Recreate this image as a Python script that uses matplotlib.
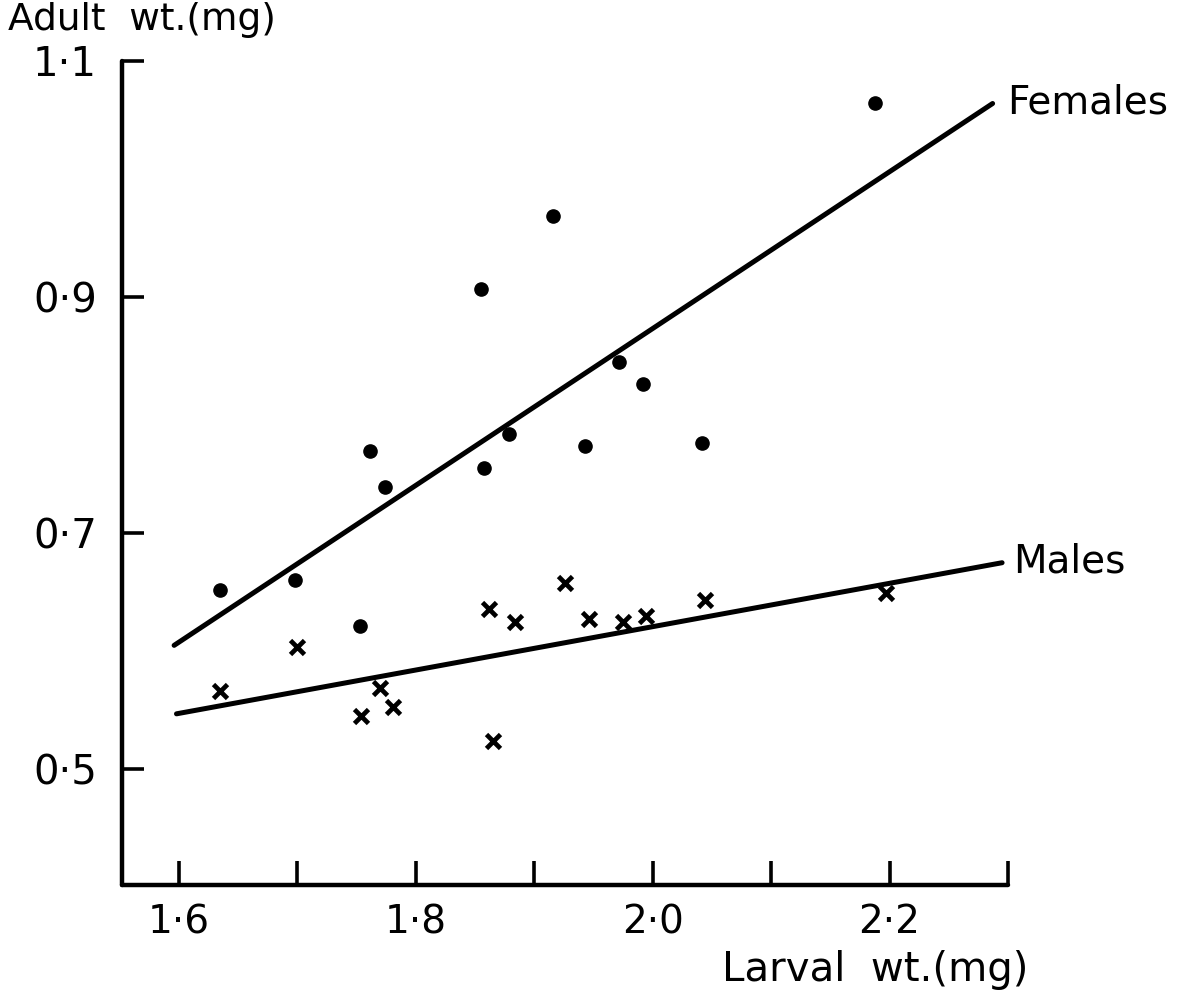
#!/usr/bin/env python

import numpy as np
import matplotlib
matplotlib.use("Agg")
import matplotlib.pyplot as plt

# larval vs adult weight (mg), one point per culture
fem_larval = [1.635, 1.698, 1.753, 1.761, 1.774, 1.855, 1.858, 1.879, 1.916, 1.943, 1.972, 1.992, 2.042, 2.188]
fem_adult = [0.652, 0.660, 0.621, 0.770, 0.739, 0.907, 0.755, 0.784, 0.969, 0.774, 0.845, 0.826, 0.776, 1.064]

male_larval = [1.635, 1.700, 1.754, 1.770, 1.781, 1.862, 1.865, 1.884, 1.926, 1.946, 1.975, 1.994, 2.044, 2.197]
male_adult = [0.566, 0.604, 0.545, 0.569, 0.553, 0.636, 0.524, 0.625, 0.658, 0.627, 0.625, 0.630, 0.643, 0.649]

# fitted regression lines, given by their end points
fem_line_x = [1.596, 2.287]
fem_line_y = [0.605, 1.064]
male_line_x = [1.598, 2.295]
male_line_y = [0.547, 0.675]

x_major = [1.6, 1.8, 2.0, 2.2]
x_major_labels = ["1·6", "1·8", "2·0", "2·2"]
x_minor = [1.7, 1.9, 2.1, 2.3]
y_major = [0.5, 0.7, 0.9, 1.1]
y_major_labels = ["0·5", "0·7", "0·9", "1·1"]

plt.rcParams["font.family"] = ["DejaVu Sans"]

fig = plt.figure(figsize = (11.87, 9.97), dpi = 100)
ax = fig.add_axes([122 / 1187, 112 / 997, 886 / 1187, 824 / 997])

ax.plot(fem_line_x, fem_line_y, color = "black", lw = 3.6, solid_capstyle = "round", clip_on = False)
ax.plot(male_line_x, male_line_y, color = "black", lw = 3.6, solid_capstyle = "round", clip_on = False)

ax.plot(fem_larval, fem_adult, "o", color = "black", ms = 9.5, clip_on = False)
ax.plot(male_larval, male_adult, "x", color = "black", ms = 10.5, mew = 3.4, clip_on = False)

ax.text(2.299, 1.065, "Females", fontsize = 28, va = "center", ha = "left")
ax.text(2.304, 0.676, "Males", fontsize = 28, va = "center", ha = "left")

ax.set_xlim(1.552, 2.3)
ax.set_ylim(0.402, 1.1)

for side in ["top", "right"]:
    ax.spines[side].set_visible(False)
for side in ["left", "bottom"]:
    ax.spines[side].set_linewidth(3.2)
    ax.spines[side].set_capstyle("round")

ax.set_xticks(x_major)
ax.set_xticklabels(x_major_labels)
ax.set_xticks(x_minor, minor = True)
ax.set_yticks(y_major)
ax.set_yticklabels(y_major_labels)

ax.tick_params(axis = "x", which = "both", direction = "in", length = 17, width = 2.6, pad = 13, labelsize = 28)
ax.tick_params(axis = "y", which = "both", direction = "in", length = 16, width = 2.6, pad = 18, labelsize = 29)
for t in ax.xaxis.get_major_ticks() + ax.xaxis.get_minor_ticks() + ax.yaxis.get_major_ticks():
    t.tick1line.set_clip_on(False)

fig.text(8 / 1187, 1 - 20 / 997, "Adult  wt.(mg)", fontsize = 27, ha = "left", va = "center")
fig.text(722 / 1187, 1 - 970 / 997, "Larval  wt.(mg)", fontsize = 29, ha = "left", va = "center")

fig.savefig("out.png", dpi = 100)
